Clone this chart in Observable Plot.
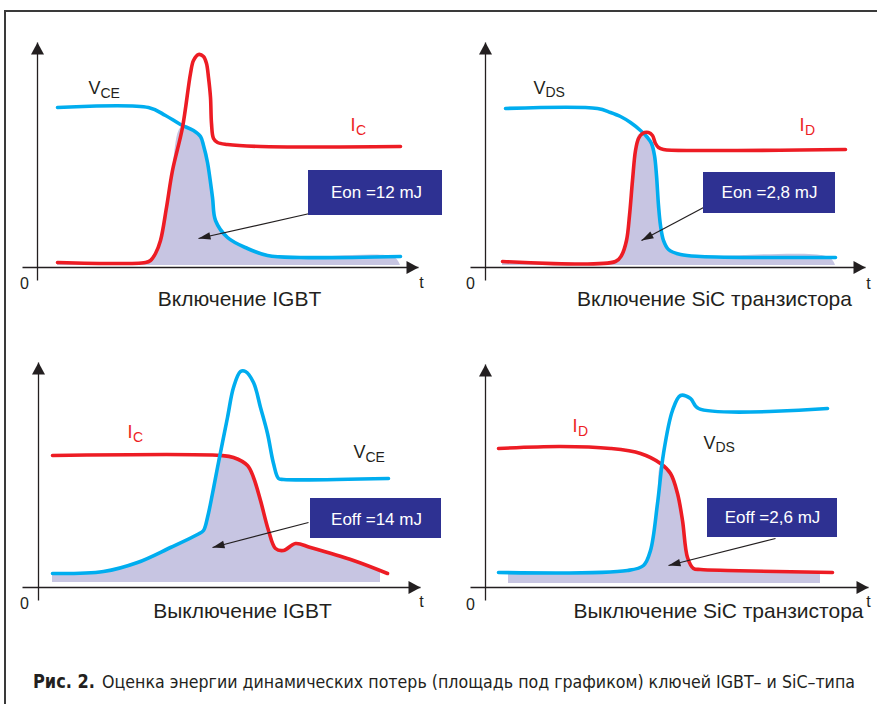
<!DOCTYPE html>
<html><head><meta charset="utf-8">
<script src="https://cdn.jsdelivr.net/npm/d3@7"></script>
<script src="https://cdn.jsdelivr.net/npm/@observablehq/plot@0.6"></script>
<style>
body{margin:0;background:#fff;}
#page{position:relative;width:877px;height:704px;overflow:hidden;font-family:"Liberation Sans",Arial,sans-serif;background:#fff;}
#frame{position:absolute;left:4px;top:10px;width:900px;height:720px;border-left:2px solid #3a3a3a;border-top:2px solid #3a3a3a;}
.panel{position:absolute;}
</style></head><body><div id="page"><div id="frame"></div></div>
<script>
// ---- Series data: t = time (arbitrary units from the vertical axis), v = value (arbitrary units above the time axis)
// Turn-on IGBT
const onIgbtVce  = [[20,160],[111,160],[128,152],[143,143],[156,137],[163,131],[166,122],[170,105],[175,70],[178,47],[190,30],[210,19],[230,12],[263,10],[363,11]];
const onIgbtIc   = [[20,5],[108,5],[113,7],[118,14],[123,27],[129,60],[135,97],[145,140],[153,194],[156,207],[161,213],[166,211],[169,204],[171,190],[173,170],[174,144],[176,129],[180,125],[190,123],[223,121],[363,121]];
const onIgbtLoss = [[20,5],[108,5],[113,7],[118,14],[123,27],[129,60],[135,97],[144,140],[156,137],[163,131],[166,122],[170,105],[175,70],[178,47],[190,30],[210,19],[230,12],[263,10],[357,10],[363,2]];
// Turn-on SiC
const onSicVds  = [[20,159],[112,159],[125,155],[135,151],[145,145],[155,137],[162,130],[166,124],[169,112],[171,92],[173,62],[175,42],[178,27],[183,18],[195,13],[215,11],[350,10]];
const onSicId   = [[17,6],[130,6],[136,12],[141,27],[144,52],[147,87],[150,117],[153,129],[157,134],[163,135],[167,132],[170,124],[173,120],[178,118],[215,117],[360,118]];
const onSicLoss = [[17,6],[130,6],[136,12],[141,27],[144,52],[147,87],[150,117],[154,133],[162,130],[166,124],[169,112],[171,92],[173,62],[175,42],[178,27],[183,18],[195,13],[215,11],[344,10],[350,2]];
// Turn-off IGBT
const offIgbtIc   = [[14,132],[182,132],[195,130],[209,122],[215,110],[222,87],[230,57],[237,39],[245,37],[257,44],[272,40],[315,27],[349,14]];
const offIgbtVce  = [[14,14],[65,16],[99,25],[132,40],[159,53],[165,57],[169,70],[174,94],[179,120],[189,170],[195,200],[202,216],[207,216],[215,205],[222,180],[229,154],[235,124],[240,109],[245,108],[350,109]];
const offIgbtLoss = [[14,14],[65,16],[99,25],[132,40],[159,53],[165,57],[169,70],[174,94],[179,120],[181,131],[195,130],[209,122],[215,110],[222,87],[230,57],[237,39],[245,37],[257,44],[272,40],[315,27],[342,17]];
// Turn-off SiC
const offSicId   = [[13,139],[75,141],[125,139],[155,134],[175,124],[185,114],[192,94],[197,67],[202,30],[208,19],[215,18],[242,17],[347,15]];
const offSicVds  = [[13,15],[142,17],[158,22],[165,37],[172,84],[178,134],[187,177],[195,192],[205,189],[213,179],[342,179]];
const offSicLoss = [[23,15],[142,17],[158,22],[165,37],[172,84],[176,122],[185,114],[192,94],[197,67],[202,30],[208,19],[215,18],[242,17],[335,15]];

// ---- Texts
const panelTitles = ["Включение IGBT", "Включение SiC транзистора", "Выключение IGBT", "Выключение SiC транзистора"];
const energyLabels = ["Eon =12 mJ", "Eon =2,8 mJ", "Eoff =14 mJ", "Eoff =2,6 mJ"];
const figCaptionBold = "Рис. 2.";
const figCaption = "Оценка энергии динамических потерь (площадь под графиком) ключей IGBT– и SiC–типа";

const BLUE = "#00adef", RED = "#ed1c24", SHADE = "#c7c5e2", BOX = "#2e3192", INK = "#231f20";

const panels = [
  {L:0, T:20, W:440, H:300, ox:37, oy:267, base:2, loss:onIgbtLoss,
   lines:[[onIgbtVce,BLUE],[onIgbtIc,RED]],
   labels:[{t:51,v:179,s:"V",z:18,c:INK},{t:63,v:174,s:"CE",z:14,c:INK},{t:313,v:142,s:"I",z:18,c:RED},{t:318.5,v:137,s:"C",z:14,c:RED}],
   box:{t1:271,t2:405,v1:52,v2:97,tc:339,vc:75}, arrow:{t1:281,v1:56,t2:161,v2:29},
   axes:{x0:-15,x1:381,y0:-13,y1:225}, zero:{t:-13,v:-16}, tee:{t:384,v:-15}, title:{t:202,v:-32}},
  {L:440, T:20, W:437, H:300, ox:485, oy:267, base:2, loss:onSicLoss,
   lines:[[onSicVds,BLUE],[onSicId,RED]],
   labels:[{t:48,v:179,s:"V",z:18,c:INK},{t:60,v:175,s:"DS",z:14,c:INK},{t:314,v:142,s:"I",z:18,c:RED},{t:319.5,v:137,s:"D",z:14,c:RED}],
   box:{t1:218,t2:350,v1:54,v2:95,tc:284,vc:75}, arrow:{t1:220,v1:61,t2:156,v2:27},
   axes:{x0:-15,x1:380,y0:-13,y1:225}, zero:{t:-15,v:-16}, tee:{t:383,v:-16}, title:{t:229,v:-32}},
  {L:0, T:340, W:440, H:300, ox:38, oy:587, base:5, loss:offIgbtLoss,
   lines:[[offIgbtIc,RED],[offIgbtVce,BLUE]],
   labels:[{t:89,v:155,s:"I",z:18,c:RED},{t:94.5,v:150,s:"C",z:14,c:RED},{t:315,v:135,s:"V",z:18,c:INK},{t:327,v:130,s:"CE",z:14,c:INK}],
   box:{t1:272,t2:403,v1:49,v2:89,tc:338,vc:68}, arrow:{t1:270,v1:65,t2:174,v2:40},
   axes:{x0:-16,x1:382,y0:-13,y1:225}, zero:{t:-14,v:-16}, tee:{t:383,v:-14}, title:{t:204,v:-24}},
  {L:440, T:340, W:437, H:300, ox:485, oy:587, base:4, loss:offSicLoss,
   lines:[[offSicId,RED],[offSicVds,BLUE]],
   labels:[{t:87,v:161,s:"I",z:18,c:RED},{t:92.5,v:156,s:"D",z:14,c:RED},{t:218,v:144,s:"V",z:18,c:INK},{t:230,v:140,s:"DS",z:14,c:INK}],
   box:{t1:222,t2:352,v1:50,v2:89,tc:287,vc:70}, arrow:{t1:290,v1:49,t2:183,v2:22},
   axes:{x0:-15,x1:383,y0:-13,y1:223}, zero:{t:-15,v:-17}, tee:{t:383,v:-14}, title:{t:233,v:-24}}
];

const page = document.getElementById("page");
const toObj = a => a.map(([t, v]) => ({t, v}));

panels.forEach((c, i) => {
  const ax = c.axes;
  const axisLines = [{x1:ax.x0, y1:0, x2:ax.x1, y2:0}, {x1:0, y1:ax.y0, x2:0, y2:ax.y1}];
  const axisTips = [{x:ax.x1, y:0, a:90}, {x:0, y:ax.y1, a:0}];
  const ar = c.arrow;
  const arrowTip = [{x:ar.t2, y:ar.v2, a:Math.atan2(ar.t2 - ar.t1, ar.v2 - ar.v1) * 180 / Math.PI}];
  const marks = [
    Plot.areaY(toObj(c.loss), {x:"t", y1:c.base, y2:"v", fill:SHADE, curve:"catmull-rom"}),
    ...c.lines.map(([d, col]) => Plot.line(toObj(d), {x:"t", y:"v", stroke:col, strokeWidth:3.6, curve:"catmull-rom"})),
    Plot.link(axisLines, {x1:"x1", y1:"y1", x2:"x2", y2:"y2", stroke:INK, strokeWidth:1.3}),
    Plot.vector(axisTips, {x:"x", y:"y", rotate:"a", length:12, r:6.5, shape:"spike", anchor:"end", fill:INK, stroke:"none"}),
    Plot.link([ar], {x1:"t1", y1:"v1", x2:"t2", y2:"v2", stroke:INK, strokeWidth:1.2}),
    Plot.vector(arrowTip, {x:"x", y:"y", rotate:"a", length:12, r:3.8, shape:"spike", anchor:"end", fill:INK, stroke:"none"}),
    Plot.rect([c.box], {x1:"t1", x2:"t2", y1:"v1", y2:"v2", fill:BOX}),
    Plot.text([c.box], {x:"tc", y:"vc", text:() => energyLabels[i], fill:"white", fontSize:17}),
    ...c.labels.map(l => Plot.text([l], {x:"t", y:"v", text:"s", fontSize:l.z, fill:l.c, textAnchor:"start"})),
    Plot.text([c.zero], {x:"t", y:"v", text:() => "0", fontSize:16, fill:INK}),
    Plot.text([c.tee], {x:"t", y:"v", text:() => "t", fontSize:16, fill:INK}),
    Plot.text([c.title], {x:"t", y:"v", text:() => panelTitles[i], fontSize:21, fill:INK})
  ];
  const svg = Plot.plot({
    width:c.W, height:c.H, margin:0,
    x:{domain:[c.L - c.ox, c.L + c.W - c.ox], axis:null},
    y:{domain:[c.oy - (c.T + c.H), c.oy - c.T], axis:null},
    style:{fontFamily:"'Liberation Sans', Arial, sans-serif", overflow:"visible", background:"transparent"},
    marks
  });
  svg.classList.add("panel");
  svg.style.left = c.L + "px";
  svg.style.top = c.T + "px";
  page.appendChild(svg);
});

// Figure caption (two separate texts, each fitted to the reference width)
const cap = d3.select(page).append("svg").attr("class", "panel")
  .style("left", "0px").style("top", "660px").attr("width", 877).attr("height", 40);
const capFont = "'Liberation Sans Narrow','DejaVu Sans Condensed',Roboto,sans-serif";
cap.append("text").attr("x", 33).attr("y", 28)
  .attr("font-family", capFont).attr("font-size", 20).attr("font-weight", "bold").attr("fill", INK)
  .attr("textLength", 62).attr("lengthAdjust", "spacingAndGlyphs")
  .text(figCaptionBold);
cap.append("text").attr("x", 102).attr("y", 28)
  .attr("font-family", capFont).attr("font-size", 18).attr("fill", INK)
  .attr("textLength", 753).attr("lengthAdjust", "spacingAndGlyphs")
  .text(figCaption);
</script>
</body></html>
